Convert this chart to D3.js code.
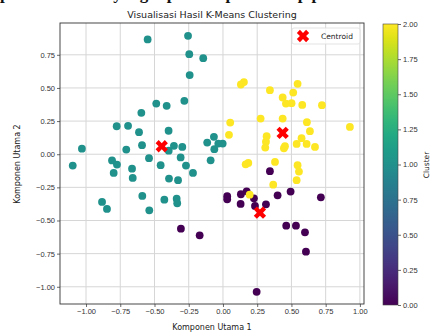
<!DOCTYPE html>
<html>
<head>
<meta charset="utf-8">
<script src="https://cdn.jsdelivr.net/npm/d3@7"></script>
<style>
  body { margin: 0; background: #fff; }
  svg { display: block; font-family: "DejaVu Sans", sans-serif; }
</style>
</head>
<body>
<svg width="434" height="334"></svg>
<script>
// cluster 0 (ungu), 1 (hijau toska), 2 (kuning) : [komponen 1, komponen 2]
const cluster0 = [
  [-0.307, -0.562], [-0.17, -0.612], [0.343, -0.128], [0.031, -0.317], [0.031, -0.34],
  [0.131, -0.302], [0.173, -0.28], [0.226, -0.333], [0.129, -0.375], [0.234, -0.39],
  [0.314, -0.378], [0.399, -0.31], [0.494, -0.282], [0.715, -0.325], [0.462, -0.539],
  [0.533, -0.539], [0.599, -0.589], [0.606, -0.735], [0.246, -1.038]
];
const cluster1 = [
  [-0.55, 0.866], [-0.255, 0.893], [-0.246, 0.755], [-0.144, 0.725], [-0.243, 0.597],
  [-0.282, 0.403], [-0.487, 0.382], [-0.411, 0.365], [-0.596, 0.312], [-0.776, 0.211],
  [-0.693, 0.214], [-0.613, 0.166], [-0.397, 0.177], [-1.03, 0.042], [-0.706, 0.035],
  [-0.591, 0.068], [-0.358, 0.063], [-0.297, 0.055], [-0.396, 0.027], [-0.066, 0.131],
  [-0.115, 0.088], [-0.034, 0.08], [-0.002, 0.08], [-0.063, 0.038], [-0.309, -0.024],
  [-0.54, -0.03], [-0.09, -0.046], [-1.097, -0.086], [-0.81, -0.047], [-0.774, -0.078],
  [-0.798, -0.141], [-0.664, -0.109], [-0.659, -0.179], [-0.455, -0.083], [-0.27, -0.086],
  [-0.219, -0.141], [-0.394, -0.184], [-0.328, -0.196], [-0.589, -0.315], [-0.428, -0.343],
  [-0.338, -0.335], [-0.334, -0.37], [-0.883, -0.36], [-0.847, -0.413], [-0.538, -0.423]
];
const cluster2 = [
  [0.131, 0.526], [0.153, 0.544], [0.343, 0.483], [0.053, 0.239], [0.044, 0.146],
  [0.275, 0.269], [0.319, 0.136], [0.314, 0.095], [0.309, 0.05], [0.545, 0.531],
  [0.436, 0.428], [0.513, 0.465], [0.46, 0.382], [0.501, 0.385], [0.579, 0.372],
  [0.723, 0.37], [0.436, 0.269], [0.613, 0.242], [0.635, 0.174], [0.927, 0.206],
  [0.574, 0.121], [0.538, 0.078], [0.611, 0.078], [0.453, 0.06], [0.445, 0.045],
  [0.672, 0.055], [0.166, -0.076], [0.185, -0.066], [0.38, -0.058], [0.545, -0.083],
  [0.555, -0.131], [0.538, -0.196], [0.367, -0.23], [0.195, -0.305]
];
const centroids = [[-0.447, 0.06], [0.27, -0.441], [0.436, 0.161]];

const xTicks = [-1, -0.75, -0.5, -0.25, 0, 0.25, 0.5, 0.75, 1];
const yTicks = [-1, -0.75, -0.5, -0.25, 0, 0.25, 0.5, 0.75];
const cbTicks = [0, 0.25, 0.5, 0.75, 1, 1.25, 1.5, 1.75, 2];

const svg = d3.select('svg');
const pLeft = 60, pRight = 364, pTop = 23, pBottom = 304;
const fmt = d3.format('.2f');

// potongan baris teks dokumen di atas gambar (terpotong seperti aslinya)
svg.append('text')
  .attr('x', 0).attr('y', -1)
  .style('font-family', '"Liberation Serif", serif')
  .style('font-weight', 'bold')
  .style('font-size', '17px')
  .attr('fill', '#111')
  .text('pemetaan hasil yang diperoleh pada tahap pemrosesan');

const x = d3.scaleLinear().domain([-1.19, 1.03]).range([pLeft, pRight]);
const y = d3.scaleLinear().domain([-1.13, 0.99]).range([pBottom, pTop]);

// grid
svg.append('g').selectAll('line').data(xTicks).enter().append('line')
  .attr('x1', d => x(d)).attr('x2', d => x(d))
  .attr('y1', pTop).attr('y2', pBottom)
  .attr('stroke', '#d6d6d6').attr('stroke-width', 1);
svg.append('g').selectAll('line').data(yTicks).enter().append('line')
  .attr('y1', d => y(d)).attr('y2', d => y(d))
  .attr('x1', pLeft).attr('x2', pRight)
  .attr('stroke', '#d6d6d6').attr('stroke-width', 1);

// axes
const xAxis = svg.append('g')
  .attr('transform', `translate(0,${pBottom})`)
  .call(d3.axisBottom(x).tickValues(xTicks).tickFormat(fmt).tickSize(3).tickPadding(2));
const yAxis = svg.append('g')
  .attr('transform', `translate(${pLeft},0)`)
  .call(d3.axisLeft(y).tickValues(yTicks).tickFormat(fmt).tickSize(3).tickPadding(2));
[xAxis, yAxis].forEach(a => {
  a.select('.domain').remove();
  a.selectAll('text').style('font-size', '7.5px').attr('fill', '#333');
  a.selectAll('line').attr('stroke', '#444').attr('stroke-width', 0.8);
});

// points
const color = d3.interpolateViridis;
const groups = [cluster0, cluster1, cluster2];
groups.forEach((pts, k) => {
  svg.append('g').selectAll('circle').data(pts).enter().append('circle')
    .attr('cx', d => x(d[0])).attr('cy', d => y(d[1]))
    .attr('r', 3.9)
    .attr('fill', color(k / 2));
});

// centroids
const xMark = d3.symbol().type(d3.symbolCross).size(95);
svg.append('g').selectAll('path').data(centroids).enter().append('path')
  .attr('d', xMark)
  .attr('transform', d => `translate(${x(d[0])},${y(d[1])}) rotate(45)`)
  .attr('fill', '#ff0000');

// frame
svg.append('rect')
  .attr('x', pLeft).attr('y', pTop)
  .attr('width', pRight - pLeft).attr('height', pBottom - pTop)
  .attr('fill', 'none').attr('stroke', '#333').attr('stroke-width', 0.9);

// legend
const lg = svg.append('g').attr('transform', 'translate(292,28)');
lg.append('rect').attr('width', 68).attr('height', 16).attr('rx', 2)
  .attr('fill', '#fff').attr('fill-opacity', 0.8)
  .attr('stroke', '#dcdcdc').attr('stroke-width', 0.8);
lg.append('path').attr('d', xMark)
  .attr('transform', 'translate(11,8) rotate(45)')
  .attr('fill', '#ff0000');
lg.append('text').attr('x', 29).attr('y', 11)
  .style('font-size', '7.5px').attr('fill', '#222').text('Centroid');

// title & axis labels
svg.append('text').attr('x', 212).attr('y', 18).attr('text-anchor', 'middle')
  .style('font-size', '9.5px').attr('fill', '#222')
  .text('Visualisasi Hasil K-Means Clustering');
svg.append('text').attr('x', 212).attr('y', 330).attr('text-anchor', 'middle')
  .style('font-size', '8px').attr('fill', '#222').text('Komponen Utama 1');
svg.append('text').attr('transform', 'translate(20,164) rotate(-90)')
  .attr('text-anchor', 'middle')
  .style('font-size', '8px').attr('fill', '#222').text('Komponen Utama 2');

// colorbar
const cbX = 383, cbW = 15;
const cb = d3.scaleLinear().domain([0, 2]).range([305, 24]);
const defs = svg.append('defs');
const grad = defs.append('linearGradient').attr('id', 'vir')
  .attr('x1', 0).attr('y1', 1).attr('x2', 0).attr('y2', 0);
d3.range(0, 1.0001, 0.05).forEach(t => {
  grad.append('stop').attr('offset', t).attr('stop-color', color(t));
});
svg.append('rect')
  .attr('x', cbX).attr('y', cb(2))
  .attr('width', cbW).attr('height', cb(0) - cb(2))
  .attr('fill', 'url(#vir)')
  .attr('stroke', '#444').attr('stroke-width', 0.6);
const cbAxis = svg.append('g')
  .attr('transform', `translate(${cbX + cbW},0)`)
  .call(d3.axisRight(cb).tickValues(cbTicks).tickFormat(fmt).tickSize(3).tickPadding(2));
cbAxis.select('.domain').remove();
cbAxis.selectAll('text').style('font-size', '7.5px').attr('fill', '#333');
cbAxis.selectAll('line').attr('stroke', '#444').attr('stroke-width', 0.8);
svg.append('text').attr('transform', 'translate(429,165) rotate(-90)')
  .attr('text-anchor', 'middle')
  .style('font-size', '7.5px').attr('fill', '#222').text('Cluster');
</script>
</body>
</html>
